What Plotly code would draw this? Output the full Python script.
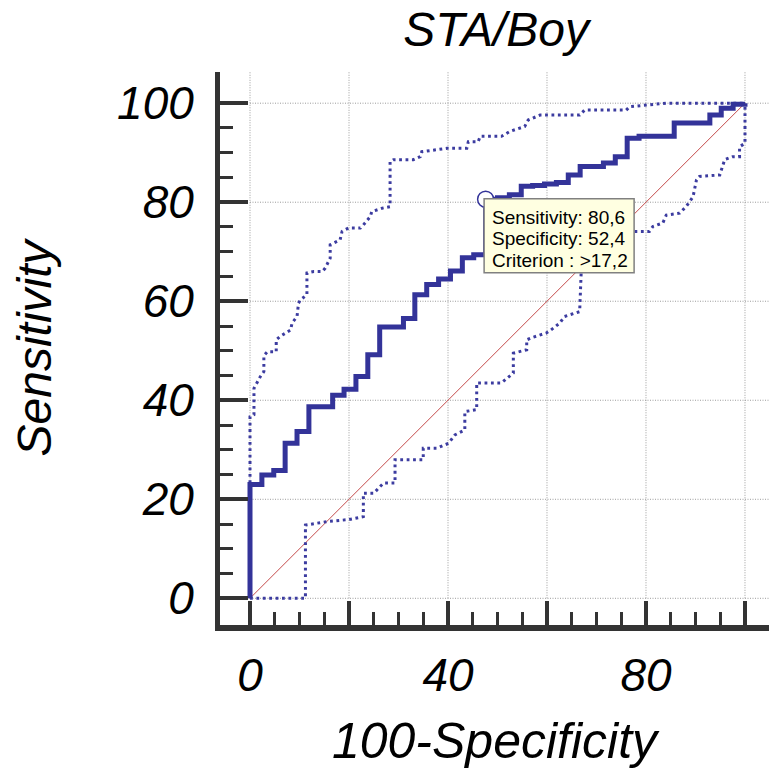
import plotly.graph_objects as go

# ROC curve operating points (100-Specificity, Sensitivity), drawn as steps
roc_fpr = [0, 0, 2.4, 4.8, 7.1, 9.5, 11.9, 16.7, 19.0, 21.4, 23.8, 26.2, 31.0,
           33.3, 35.7, 38.1, 40.5, 42.9, 45.2, 47.6, 50.0, 52.4, 54.8, 57.1,
           59.5, 61.9, 64.3, 66.7, 71.4, 73.8, 76.2, 78.6, 85.7, 92.9, 95.2,
           97.6, 100]
roc_sens = [0, 23.0, 24.9, 25.8, 31.3, 33.7, 38.7, 41.0, 42.2, 44.8, 49.2, 54.8,
            56.5, 61.3, 63.4, 64.5, 66.1, 68.8, 69.4, 80.6, 80.9, 81.5, 83.2,
            83.4, 83.7, 84.0, 85.5, 87.2, 87.9, 89.2, 92.9, 93.3, 96.0, 97.6,
            99.0, 99.8, 100]

# 95% confidence bounds
upper_fpr = [0, 0, 0.8, 0.8, 2.1, 2.8, 2.8, 3.5, 5.3, 5.3, 6.1, 8.2, 8.5, 9.5,
             9.8, 10.2, 11.5, 11.5, 12.9, 14.6, 15.2, 16.2, 16.2, 16.9, 18.2,
             18.6, 19.9, 22.3, 22.9, 24.3, 24.6, 26.7, 28.3, 28.3, 29.0, 33.0,
             34.4, 34.7, 37.1, 39.8, 43.8, 44.1, 46.1, 46.5, 50.8, 52.5, 55.5,
             56.2, 58.6, 66.6, 67.6, 76.0, 76.7, 80.1, 84.1, 100]
upper_sens = [0, 36.7, 37.1, 42.4, 44.8, 45.8, 49.0, 49.8, 49.8, 52.2, 52.9,
              54.2, 55.6, 56.9, 59.6, 60.3, 61.3, 65.7, 66.0, 66.0, 66.7, 68.7,
              71.4, 71.7, 72.4, 74.1, 74.8, 74.8, 75.4, 77.1, 78.1, 78.8, 79.1,
              88.2, 88.6, 88.6, 89.2, 90.2, 90.6, 90.9, 90.9, 92.2, 92.2, 93.3,
              93.3, 94.3, 95.3, 96.6, 97.6, 97.6, 98.6, 98.6, 99.3, 99.6, 100,
              100]

lower_fpr = [0, 11.2, 11.2, 15.6, 19.9, 22.9, 22.9, 25.0, 26.3, 27.0, 29.3,
             29.3, 35.0, 35.0, 37.7, 40.1, 41.4, 43.4, 43.4, 45.8, 45.8, 50.8,
             52.0, 53.2, 53.2, 55.9, 55.9, 57.1, 59.9, 60.8, 62.6, 63.5, 66.6,
             66.9, 66.9, 71.4, 73.8, 80.7, 81.4, 83.4, 84.1, 86.8, 88.1, 89.5,
             90.2, 90.8, 94.9, 95.9, 97.5, 98.9, 98.9, 100, 100]
lower_sens = [0, 0, 14.8, 15.5, 15.9, 16.5, 21.2, 21.2, 22.6, 23.3, 23.3,
              28.0, 28.0, 30.3, 30.3, 31.3, 33.0, 34.0, 37.7, 38.1, 43.5, 43.5,
              44.5, 45.5, 49.5, 50.2, 52.2, 52.7, 53.6, 54.2, 55.6, 56.9, 57.9,
              65.7, 72.0, 73.0, 74.1, 74.1, 75.1, 75.8, 77.4, 77.8, 79.1, 81.1,
              84.5, 85.2, 85.5, 88.6, 89.2, 89.2, 91.2, 91.9, 100]

# Selected cut-off point
sel_sensitivity = 80.6
sel_specificity = 52.4
sel_criterion = ">17,2"

major_ticks = [0, 20, 40, 60, 80, 100]
x_tick_text = ["0", "", "40", "", "80", ""]
y_tick_text = ["0", "20", "40", "60", "80", "100"]
minor_ticks = [5, 10, 15, 25, 30, 35, 45, 50, 55, 65, 70, 75, 85, 90, 95]

X_RANGE = [-6.06, 104.85]
Y_RANGE = [-5.39, 106.3]

FONT = "Liberation Sans, Arial, sans-serif"
BLUE = "#333399"
AXIS = "#333333"
GRID = dict(color="#9c9c9c", width=1, dash="1px,1.5px")

fig = go.Figure()

# dotted grid, kept inside the data quadrant
shapes = []
for v in major_ticks:
    shapes.append(dict(type="line", xref="x", yref="y", x0=v, x1=v,
                       y0=0, y1=Y_RANGE[1], layer="below", line=GRID))
    shapes.append(dict(type="line", xref="x", yref="y", x0=0, x1=X_RANGE[1],
                       y0=v, y1=v, layer="below", line=GRID))

# reference diagonal
fig.add_trace(go.Scatter(x=[0, 100], y=[0, 100], mode="lines",
                         line=dict(color="#c44a4a", width=1),
                         hoverinfo="skip", showlegend=False))

# confidence bounds
band_line = dict(color="#3c3ca0", width=3, dash="2.8px,3.6px")
fig.add_trace(go.Scatter(x=upper_fpr, y=upper_sens, mode="lines",
                         line=band_line, showlegend=False))
fig.add_trace(go.Scatter(x=lower_fpr, y=lower_sens, mode="lines",
                         line=band_line, showlegend=False))

# ROC curve
fig.add_trace(go.Scatter(x=roc_fpr, y=roc_sens, mode="lines",
                         line=dict(color=BLUE, width=5, shape="hv"),
                         showlegend=False))

# marker at the selected criterion
sel_x = 100 - sel_specificity
fig.add_trace(go.Scatter(x=[sel_x], y=[sel_sensitivity], mode="markers",
                         marker=dict(symbol="circle", size=16, color="white",
                                     line=dict(color=BLUE, width=1.5)),
                         showlegend=False))

# info box next to the marker
shapes.append(dict(type="rect", xref="x", yref="y",
                   xsizemode="pixel", ysizemode="pixel",
                   xanchor=sel_x, yanchor=sel_sensitivity,
                   x0=-1.5, x1=148.5, y0=0.5, y1=-73.5, layer="above",
                   fillcolor="#ffffe1",
                   line=dict(color="#808080", width=1.5)))

fmt = lambda v: f"{v:.1f}".replace(".", ",")
info_lines = [f"Sensitivity: {fmt(sel_sensitivity)}",
              f"Specificity: {fmt(sel_specificity)}",
              f"Criterion : {sel_criterion}"]
annotations = []
for i, line in enumerate(info_lines):
    annotations.append(dict(x=sel_x, y=sel_sensitivity, xref="x", yref="y",
                            text=line, showarrow=False, xanchor="left",
                            yanchor="middle", xshift=4, yshift=-18 - 21.7 * i,
                            font=dict(family=FONT, size=19, color="black")))

tick_font = dict(family=FONT, size=46, color="black", style="italic")

fig.update_layout(
    width=769, height=781,
    margin=dict(l=220, r=0, t=72, b=156),
    paper_bgcolor="white", plot_bgcolor="white",
    title=dict(text="STA/Boy", x=0.503, xref="paper", xanchor="center",
               y=1 - 29 / 781, yref="container", yanchor="middle",
               font=dict(family=FONT, size=48, color="black", style="italic")),
    shapes=shapes, annotations=annotations,
    xaxis=dict(range=X_RANGE, showgrid=False, zeroline=False,
               showline=True, linewidth=5.5, linecolor=AXIS,
               ticks="inside", ticklen=24, tickwidth=3.5, tickcolor=AXIS,
               tickmode="array", tickvals=major_ticks, ticktext=x_tick_text,
               tickfont=tick_font, ticklabelstandoff=5,
               minor=dict(ticks="inside", ticklen=13, tickwidth=2.5,
                          tickcolor=AXIS, tickmode="array",
                          tickvals=minor_ticks, showgrid=False),
               title=dict(text="100-Specificity", standoff=25,
                          font=dict(family=FONT, size=50, color="black",
                                    style="italic"))),
    yaxis=dict(range=Y_RANGE, showgrid=False, zeroline=False,
               showline=True, linewidth=5, linecolor=AXIS,
               ticks="inside", ticklen=28, tickwidth=3.5, tickcolor=AXIS,
               tickmode="array", tickvals=major_ticks, ticktext=y_tick_text,
               tickfont=tick_font, ticklabelstandoff=12,
               minor=dict(ticks="inside", ticklen=13, tickwidth=2.5,
                          tickcolor=AXIS, tickmode="array",
                          tickvals=minor_ticks, showgrid=False),
               title=dict(text="Sensitivity", standoff=52,
                          font=dict(family=FONT, size=48, color="black",
                                    style="italic"))),
)

fig.write_html("out.html")
